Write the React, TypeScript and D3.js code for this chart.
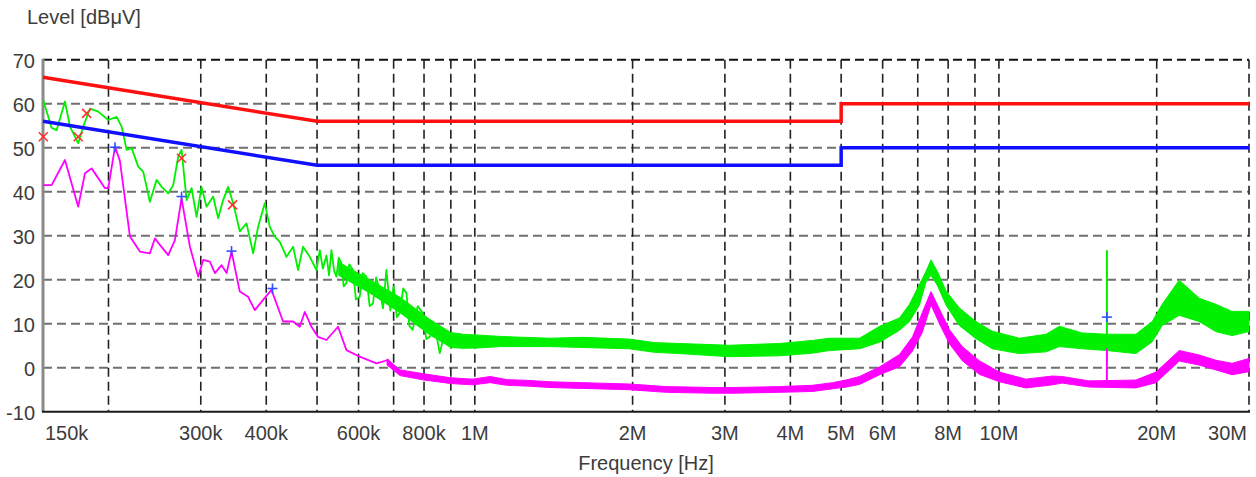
import React from "react";
import * as d3 from "d3";

// ---------- axis data ----------
const xGridFreqs = [0.2, 0.3, 0.4, 0.5, 0.6, 0.7, 0.8, 0.9, 1, 2, 3, 4, 5, 6, 7, 8, 9, 10, 20, 30];
const xLabelFreqs = [0.15, 0.3, 0.4, 0.6, 0.8, 1, 2, 3, 4, 5, 6, 8, 10, 20, 30];
const xLabelTexts = ["150k", "300k", "400k", "600k", "800k", "1M", "2M", "3M", "4M", "5M", "6M", "8M", "10M", "20M", "30M"];
const yTicks = [-10, 0, 10, 20, 30, 40, 50, 60, 70];

// ---------- limit lines (MHz, dBµV) ----------
const limitFreq = [0.15, 0.5, 5, 5, 30];
const qpLimit = [66, 56, 56, 60, 60];
const avLimit = [56, 46, 46, 50, 50];

// ---------- peak trace (green) ----------
const peakLineFreq = [0.1502, 0.1558, 0.1593, 0.1652, 0.1689, 0.1751, 0.179, 0.1844, 0.1912, 0.1998, 0.2073, 0.2119, 0.2166, 0.2214, 0.2279, 0.233, 0.2399, 0.2471, 0.2526, 0.26, 0.2658, 0.2717, 0.2757, 0.2819, 0.2881, 0.2945, 0.301, 0.3077, 0.3168, 0.3238, 0.331, 0.3383, 0.3458, 0.3561, 0.3668, 0.3776, 0.3859, 0.3974, 0.4063, 0.4153, 0.4245, 0.4372, 0.45, 0.46, 0.4702, 0.4843, 0.4987, 0.506, 0.513, 0.5211, 0.527, 0.5326, 0.539, 0.5445, 0.55, 0.5566, 0.562, 0.5689, 0.576, 0.5856, 0.593, 0.6031, 0.611, 0.6211, 0.63, 0.6393, 0.648, 0.6584, 0.668, 0.6781, 0.69, 0.7, 0.71, 0.719, 0.73, 0.7405, 0.75, 0.7612, 0.778, 0.7955, 0.808, 0.8204, 0.838, 0.8572, 0.87, 0.8828, 0.9, 0.9224];
const peakLineLevel = [60.8, 54.5, 54.0, 60.5, 54.8, 51.0, 54.8, 58.9, 58.2, 56.3, 57.0, 54.8, 49.5, 49.9, 45.7, 44.5, 37.7, 42.7, 41.1, 39.6, 41.5, 48.0, 49.5, 38.1, 40.8, 34.3, 41.1, 36.6, 38.9, 34.0, 38.1, 41.1, 37.4, 31.0, 32.8, 26.0, 32.0, 37.4, 32.0, 29.8, 28.6, 25.2, 27.5, 22.2, 27.5, 25.2, 22.2, 26.7, 22.5, 25.5, 21.0, 26.7, 22.0, 20.7, 25.0, 23.7, 18.5, 19.2, 23.5, 22.2, 15.5, 16.1, 21.5, 20.7, 14.0, 14.6, 20.5, 17.7, 13.5, 22.2, 13.0, 18.5, 11.5, 12.4, 18.0, 17.0, 9.5, 8.6, 14.0, 12.4, 6.5, 7.0, 9.5, 3.3, 6.5, 7.9, 4.5, 6.3];
const peakBandFreq = [0.55, 0.63, 0.72, 0.82, 0.9, 0.95, 1.02, 1.12, 1.39, 1.6, 1.97, 2.2, 2.46, 3.06, 3.81, 4.41, 4.75, 5.42, 5.92, 6.46, 6.75, 7.05, 7.26, 7.42, 7.63, 7.93, 8.4, 9.04, 9.71, 10.94, 12.3, 13.04, 14.42, 16.07, 18.25, 19.61, 20.49, 22.08, 24.1, 25.93, 27.85, 30];
const peakBandLo = [21, 17, 12.5, 7.5, 4.6, 4.4, 4.5, 4.8, 4.8, 4.6, 4.3, 3.5, 3.2, 2.5, 2.7, 3.3, 3.9, 4.3, 5.8, 8.5, 10.5, 14.2, 19.5, 21.0, 18.7, 14.2, 9.6, 6.6, 4.3, 3.2, 3.6, 4.8, 4.3, 3.9, 3.2, 5.9, 9.6, 11.9, 10.5, 8.2, 7.3, 8.2];
const peakBandHi = [24, 20, 16, 11, 8.0, 7.6, 7.4, 7.1, 6.7, 6.9, 6.5, 5.7, 5.5, 5.1, 5.5, 6.2, 6.7, 6.7, 9.4, 11.3, 14.4, 18.9, 21.9, 24.5, 21.9, 17.4, 13.6, 10.5, 8.3, 6.7, 7.6, 9.4, 7.9, 7.6, 7.6, 10.5, 14.4, 19.9, 15.8, 14.4, 12.8, 12.8];
const peakSpikeFreq = [16.07];
const peakSpikeLo = [7.0];
const peakSpikeHi = [26.7];

// ---------- average trace (magenta) ----------
const avgLineFreq = [0.1502, 0.1558, 0.1652, 0.1751, 0.1804, 0.1857, 0.197, 0.1998, 0.2058, 0.2103, 0.2198, 0.2296, 0.2399, 0.2453, 0.2507, 0.26, 0.2678, 0.2757, 0.286, 0.2966, 0.3032, 0.3122, 0.3192, 0.3287, 0.336, 0.3434, 0.3561, 0.3693, 0.3804, 0.3945, 0.4093, 0.4307, 0.45, 0.4635, 0.4738, 0.4879, 0.5022, 0.5211, 0.5483, 0.5689, 0.6031, 0.649, 0.6829, 0.719];
const avgLineLevel = [41.5, 41.5, 47.2, 36.6, 44.2, 45.3, 40.8, 40.8, 50.2, 47.0, 29.8, 26.4, 26.0, 29.4, 27.9, 25.6, 29.0, 38.5, 27.5, 20.7, 24.5, 24.1, 21.5, 23.3, 21.5, 26.4, 17.3, 16.1, 13.1, 15.4, 17.7, 10.5, 10.5, 9.3, 12.7, 9.3, 7.0, 6.3, 9.3, 4.0, 2.5, 1.0, 1.75, -1.3];
const avgBandFreq = [0.68, 0.72, 0.8, 0.9, 0.99, 1.07, 1.15, 1.27, 1.39, 1.6, 1.97, 2.32, 2.84, 3.1, 3.81, 4.41, 4.81, 5.11, 5.42, 5.92, 6.46, 6.84, 7.14, 7.42, 7.7, 8.04, 8.51, 9.17, 10.02, 11.26, 12.64, 13.21, 14.87, 18.25, 19.93, 22.08, 24.1, 25.93, 27.85, 30];
const avgBandLo = [0.6, -1.8, -2.8, -3.6, -3.9, -3.4, -4.0, -4.2, -4.5, -4.7, -5.0, -5.6, -5.8, -5.8, -5.6, -5.4, -4.8, -4.4, -3.8, -1.6, 0.2, 3.8, 8.0, 14.3, 10.0, 5.5, 1.6, -1.5, -3.2, -4.6, -3.9, -3.5, -4.4, -4.6, -3.4, 1.5, 0.6, -0.5, -1.6, -0.9];
const avgBandHi = [2.0, -0.5, -1.4, -2.3, -2.6, -2.0, -2.7, -2.9, -3.2, -3.4, -3.7, -4.3, -4.5, -4.5, -4.3, -4.0, -3.4, -2.8, -2.0, 0.2, 3.0, 7.0, 12.5, 17.3, 13.3, 8.7, 4.8, 1.6, -1.0, -2.6, -1.9, -2.0, -3.0, -2.8, -1.0, 3.9, 2.9, 1.7, 1.0, 2.1];
const avgSpikeFreq = [16.07];
const avgSpikeLo = [-4.4];
const avgSpikeHi = [4.4];

// ---------- final measurement markers ----------
const qpMarkFreq = [0.1502, 0.1751, 0.1817, 0.2757, 0.3449];
const qpMarkLevel = [52.5, 52.5, 57.8, 47.6, 37.0];
const avMarkFreq = [0.2058, 0.2757, 0.3434, 0.4111, 16.07];
const avMarkLevel = [50.1, 38.9, 26.5, 18.0, 11.5];

const W = 1256;
const H = 477;
const FONT = "'Liberation Sans', Arial, Helvetica, sans-serif";
const TXT = "#3c3c3c";

export default function App() {
  const x = d3.scaleLog().domain([0.15, 30]).range([43, 1249]);
  const y = d3.scaleLinear().domain([-10, 70]).range([411.7, 59.7]);

  const line = d3
    .line<[number, number]>()
    .x((d) => x(d[0]))
    .y((d) => y(d[1]));
  const area = d3
    .area<[number, number, number]>()
    .x((d) => x(d[0]))
    .y0((d) => y(d[1]))
    .y1((d) => y(d[2]));

  const zip2 = (a: number[], b: number[]) => a.map((v, i) => [v, b[i]] as [number, number]);
  const zip3 = (a: number[], b: number[], c: number[]) =>
    a.map((v, i) => [v, b[i], c[i]] as [number, number, number]);

  const green = "#00f000";
  const magenta = "#ff00ff";

  return (
    <svg
      width={W}
      height={H}
      style={{ position: "absolute", left: 0, top: 0, background: "#fff" }}
      fontFamily={FONT}
    >
      <rect width={W} height={H} fill="#fff" />
      {/* horizontal grid */}
      {yTicks
        .filter((t) => t > -10)
        .map((t) => (
          <line
            key={"h" + t}
            x1={43}
            x2={1249}
            y1={y(t)}
            y2={y(t)}
            stroke={t === 70 ? "#111" : "#707070"}
            strokeWidth={2}
            strokeDasharray="9,5"
          />
        ))}
      {/* vertical grid */}
      {xGridFreqs.map((f) => (
        <line
          key={"v" + f}
          x1={x(f)}
          x2={x(f)}
          y1={y(70)}
          y2={y(-10)}
          stroke="#222"
          strokeWidth={1.6}
          strokeDasharray="9,5"
        />
      ))}
      {/* axes */}
      <line x1={43} x2={43} y1={y(70) - 1} y2={y(-10)} stroke="#8a8a8a" strokeWidth={3} />
      <line x1={42} x2={1250} y1={y(-10)} y2={y(-10)} stroke="#1a1a1a" strokeWidth={2} />

      {/* peak trace */}
      <path d={area(zip3(peakBandFreq, peakBandLo, peakBandHi)) || ""} fill={green} stroke={green} strokeWidth={1} />
      <path d={line(zip2(peakLineFreq, peakLineLevel)) || ""} fill="none" stroke={green} strokeWidth={1.8} strokeLinejoin="round" />
      {peakSpikeFreq.map((f, i) => (
        <line key={"ps" + i} x1={x(f)} x2={x(f)} y1={y(peakSpikeLo[i])} y2={y(peakSpikeHi[i])} stroke={green} strokeWidth={2} />
      ))}

      {/* average trace */}
      <path d={area(zip3(avgBandFreq, avgBandLo, avgBandHi)) || ""} fill={magenta} stroke={magenta} strokeWidth={1} />
      <path d={line(zip2(avgLineFreq, avgLineLevel)) || ""} fill="none" stroke={magenta} strokeWidth={1.8} strokeLinejoin="round" />
      {avgSpikeFreq.map((f, i) => (
        <line key={"as" + i} x1={x(f)} x2={x(f)} y1={y(avgSpikeLo[i])} y2={y(avgSpikeHi[i])} stroke={magenta} strokeWidth={2} />
      ))}

      {/* limits */}
      <path d={line(zip2(limitFreq, qpLimit)) || ""} fill="none" stroke="#ff1010" strokeWidth={3.5} />
      <path d={line(zip2(limitFreq, avLimit)) || ""} fill="none" stroke="#1010ff" strokeWidth={3.5} />

      {/* markers */}
      {qpMarkFreq.map((f, i) => {
        const cx = x(f);
        const cy = y(qpMarkLevel[i]);
        const s = 4.5;
        return (
          <g key={"qp" + i} stroke="#ff3030" strokeWidth={1.6}>
            <line x1={cx - s} y1={cy - s} x2={cx + s} y2={cy + s} />
            <line x1={cx - s} y1={cy + s} x2={cx + s} y2={cy - s} />
          </g>
        );
      })}
      {avMarkFreq.map((f, i) => {
        const cx = x(f);
        const cy = y(avMarkLevel[i]);
        const s = 5;
        return (
          <g key={"av" + i} stroke="#3050ff" strokeWidth={1.6}>
            <line x1={cx - s} y1={cy} x2={cx + s} y2={cy} />
            <line x1={cx} y1={cy - s} x2={cx} y2={cy + s} />
          </g>
        );
      })}

      {/* y tick labels */}
      {yTicks.map((t) => (
        <text key={"yl" + t} x={35} y={y(t) + 8} textAnchor="end" fontSize={20} fill={TXT}>
          {t}
        </text>
      ))}
      {/* x tick labels */}
      {xLabelFreqs.map((f, i) => {
        const first = i === 0;
        const last = i === xLabelFreqs.length - 1;
        return (
          <text
            key={"xl" + f}
            x={first ? 45 : last ? 1247 : x(f)}
            y={440}
            textAnchor={first ? "start" : last ? "end" : "middle"}
            fontSize={20}
            fill={TXT}
          >
            {xLabelTexts[i]}
          </text>
        );
      })}
      <text x={646} y={470} textAnchor="middle" fontSize={20} fill={TXT}>
        Frequency [Hz]
      </text>
      <text x={27} y={24} fontSize={20} fill={TXT}>
        Level [dBμV]
      </text>
    </svg>
  );
}
